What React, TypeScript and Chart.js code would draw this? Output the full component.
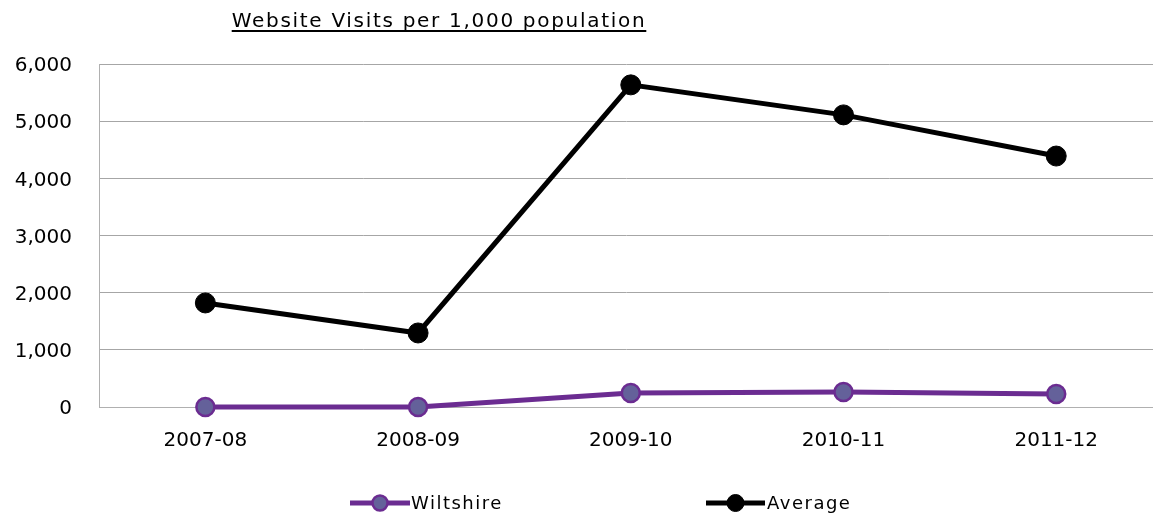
import React, { useEffect, useRef } from "react";
import { Chart, registerables } from "chart.js";

Chart.register(...registerables);

const categories = ["2007-08", "2008-09", "2009-10", "2010-11", "2011-12"];
const wiltshire = [0, 0, 245, 262, 228];
const average = [1820, 1295, 5635, 5110, 4390];
const yTicks = [0, 1000, 2000, 3000, 4000, 5000, 6000];
const titleText = "Website Visits per 1,000 population";

const FONT = "'DejaVu Sans', sans-serif";
const PURPLE = "#6B2C91";
const MARKER_FILL = "#64619A";

export default function App() {
  const ref = useRef<HTMLCanvasElement | null>(null);

  useEffect(() => {
    const canvas = ref.current!;
    const titlePlugin = {
      id: "titleLegend",
      beforeInit(chart: any) {
        try { chart.ctx.letterSpacing = "1.5px"; } catch (e) {}
      },
      afterDraw(chart: any) {
        const ctx = chart.ctx;
        ctx.save();
        try { ctx.letterSpacing = "1.7px"; } catch (e) {}
        ctx.fillStyle = "#000";
        ctx.font = `20px ${FONT}`;
        ctx.textBaseline = "alphabetic";
        ctx.textAlign = "center";
        const cx = 439;
        ctx.fillText(titleText, cx, 27);
        const w = ctx.measureText(titleText).width;
        ctx.fillRect(cx - w / 2, 30, w, 2);

        // legend
        try { ctx.letterSpacing = "1.5px"; } catch (e) {}
        const items = [
          { x1: 350, x2: 410, tx: 411 },
          { x1: 706, x2: 765, tx: 767 },
        ];
        chart.data.datasets.forEach((ds: any, i: number) => {
          const it = items[i];
          const y = 503;
          ctx.strokeStyle = ds.borderColor;
          ctx.lineWidth = ds.borderWidth;
          ctx.beginPath();
          ctx.moveTo(it.x1, y);
          ctx.lineTo(it.x2, y);
          ctx.stroke();
          ctx.beginPath();
          ctx.arc((it.x1 + it.x2) / 2, y, ds.pointRadius - 1.5, 0, Math.PI * 2);
          ctx.fillStyle = ds.pointBackgroundColor;
          ctx.fill();
          ctx.lineWidth = ds.pointBorderWidth;
          ctx.strokeStyle = ds.pointBorderColor;
          ctx.stroke();
          ctx.fillStyle = "#000";
          ctx.font = `18px ${FONT}`;
          ctx.textAlign = "left";
          ctx.textBaseline = "middle";
          ctx.fillText(ds.label, it.tx, y + 1);
        });
        ctx.restore();
      },
    };

    const chart = new Chart(canvas, {
      type: "line",
      data: {
        datasets: [
          {
            label: "Wiltshire",
            data: wiltshire.map((v, i) => ({ x: i, y: v })),
            borderColor: PURPLE,
            borderWidth: 5,
            pointRadius: 9,
            pointBackgroundColor: MARKER_FILL,
            pointBorderColor: PURPLE,
            pointBorderWidth: 2.5,
          },
          {
            label: "Average",
            data: average.map((v, i) => ({ x: i, y: v })),
            borderColor: "#000000",
            borderWidth: 5,
            pointRadius: 10,
            pointBackgroundColor: "#000000",
            pointBorderColor: "#000000",
            pointBorderWidth: 1,
          },
        ],
      },
      options: {
        responsive: false,
        animation: false,
        clip: false as any,
        layout: { autoPadding: false, padding: { top: 64, right: 0, bottom: 0, left: 0 } },
        plugins: {
          legend: { display: false },
          title: { display: false },
          tooltip: { enabled: false },
        },
        scales: {
          x: {
            type: "linear",
            min: -0.5,
            max: 4.455,
            afterBuildTicks(scale: any) {
              scale.ticks = categories.map((_, i) => ({ value: i }));
            },
            afterFit(scale: any) {
              scale.height = 111;
              scale.paddingLeft = 0;
              scale.paddingRight = 0;
            },
            grid: { display: false, drawTicks: false },
            border: { display: true, color: "#b0b0b0", width: 1 },
            ticks: {
              padding: 22,
              maxRotation: 0,
              autoSkip: false,
              color: "#000",
              font: { family: FONT, size: 20 },
              callback: (v: any) => categories[Number(v)] ?? "",
            },
          },
          y: {
            min: 0,
            max: 6000,
            afterBuildTicks(scale: any) {
              scale.ticks = yTicks.map((v) => ({ value: v }));
            },
            afterFit(scale: any) {
              scale.width = 99;
              scale.paddingTop = 0;
              scale.paddingBottom = 0;
            },
            grid: { color: "#a6a6a6", lineWidth: 1, drawTicks: false },
            border: { display: true, color: "#b0b0b0", width: 1 },
            ticks: {
              padding: 27,
              labelOffset: 2,
              color: "#000",
              font: { family: FONT, size: 20 },
              callback: (v: any) => Number(v).toLocaleString("en-US"),
            },
          },
        },
      },
      plugins: [titlePlugin],
    } as any);
    return () => chart.destroy();
  }, []);

  return (
    <div style={{ position: "absolute", left: 0, top: 0, width: 1153, height: 518, background: "#fff" }}>
      <canvas ref={ref} width={1153} height={518} style={{ display: "block" }} />
    </div>
  );
}
